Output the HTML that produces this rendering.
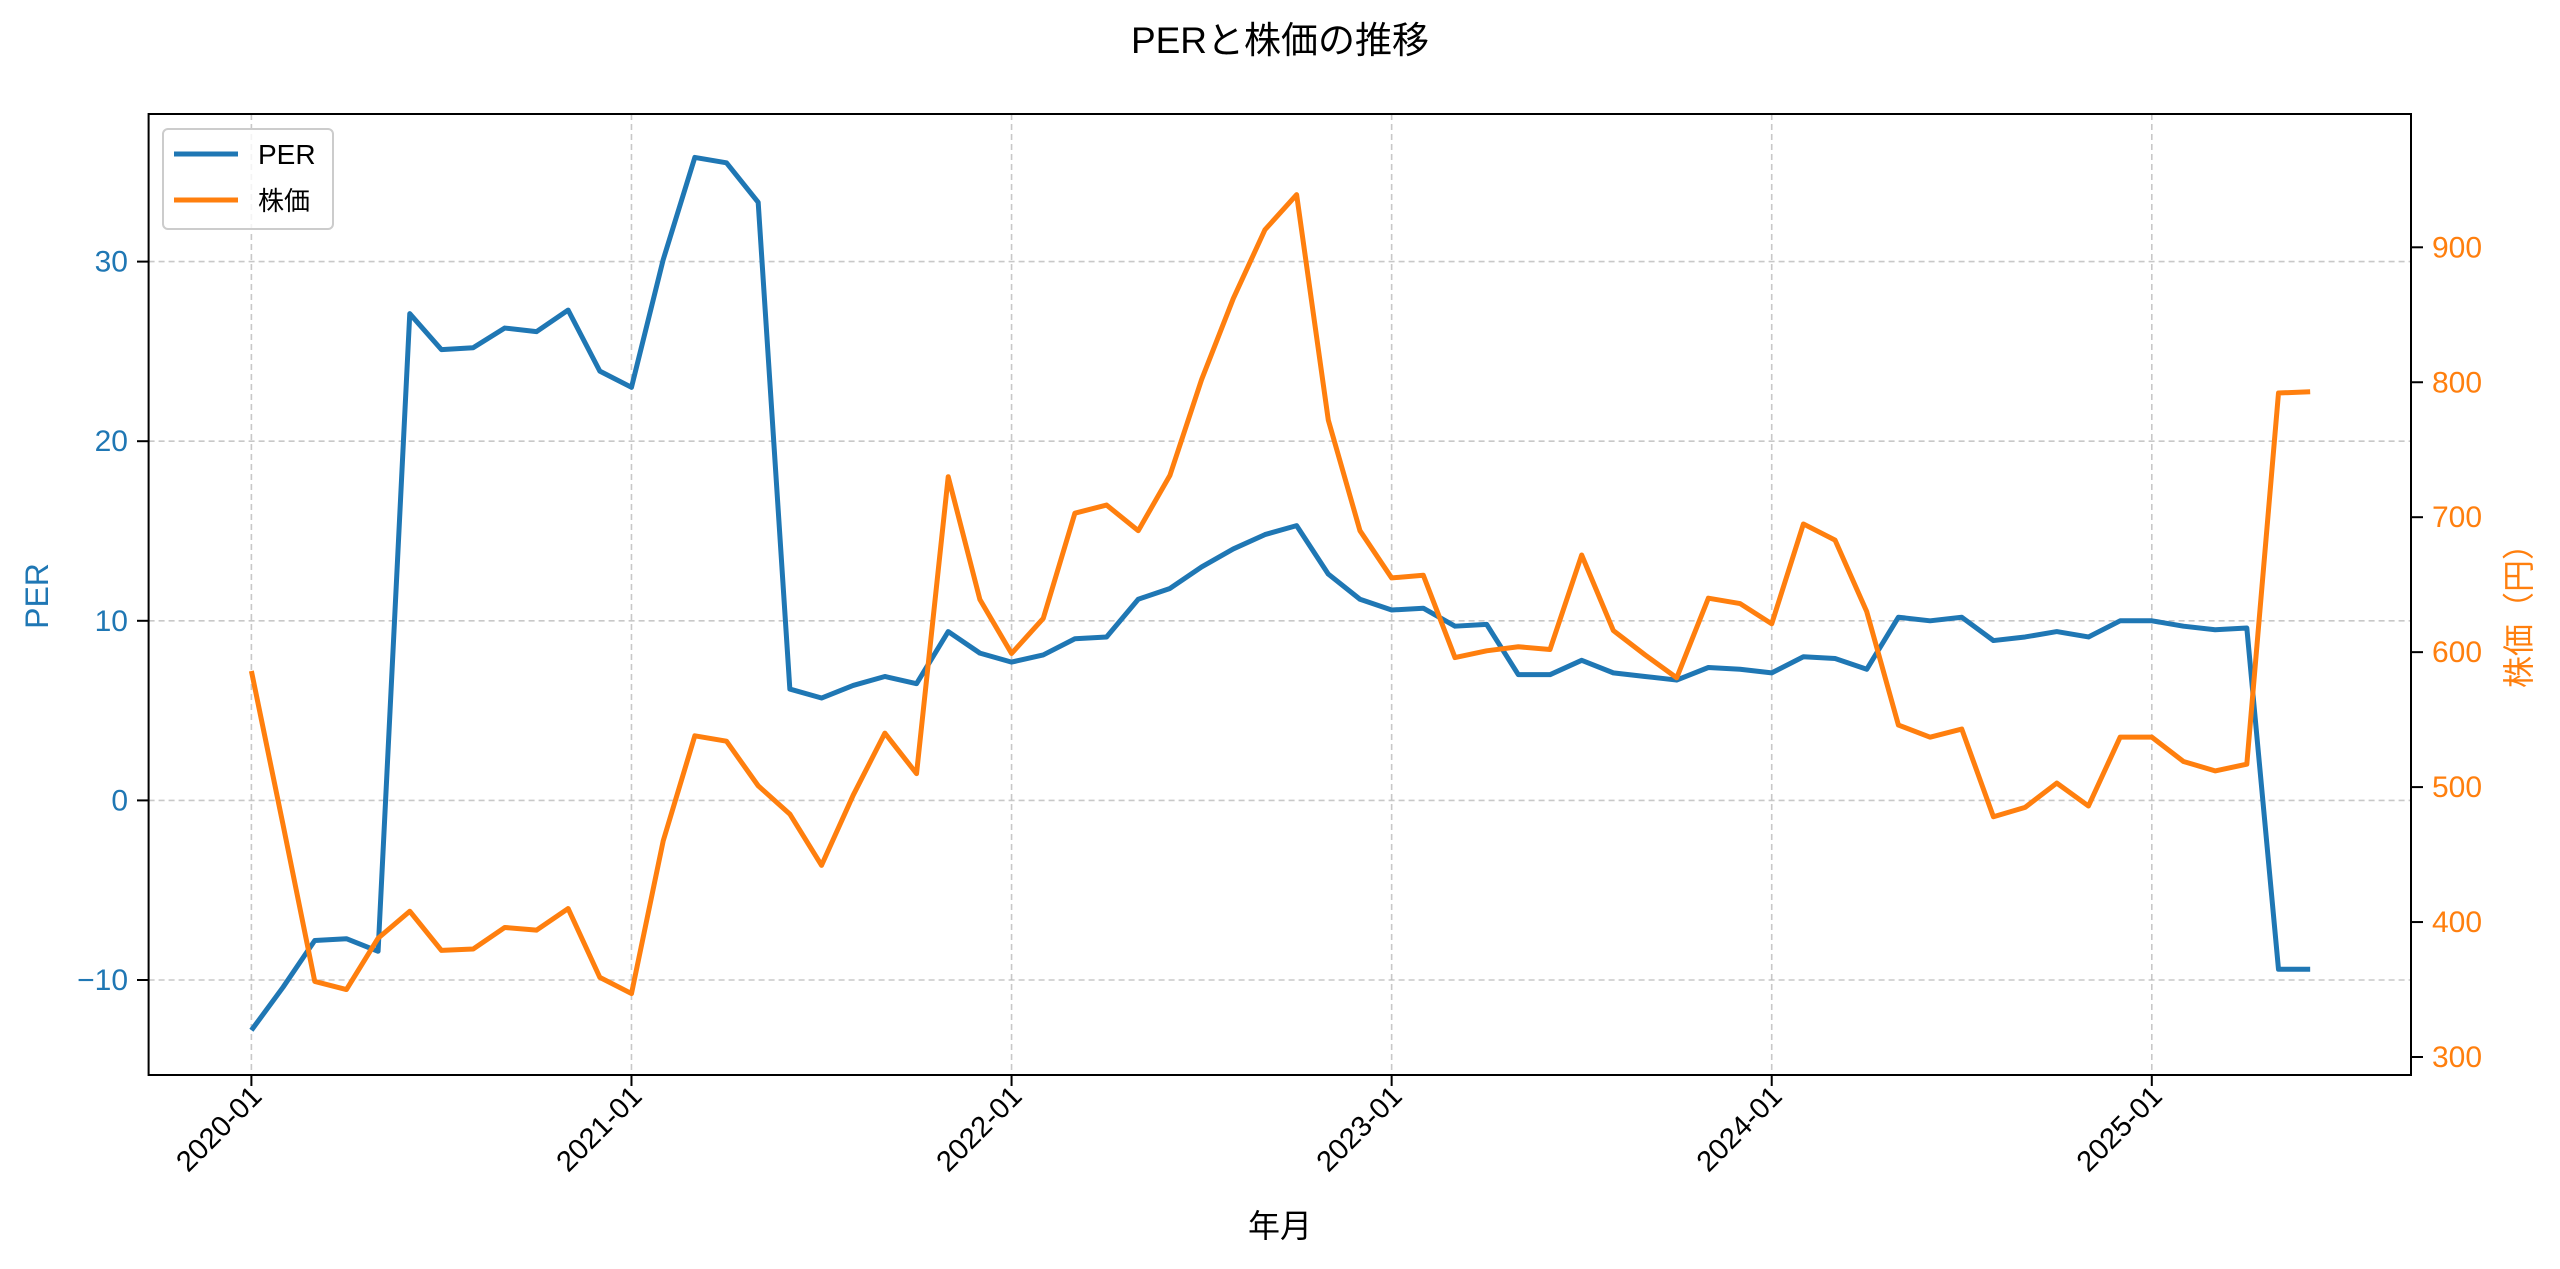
<!DOCTYPE html>
<html><head><meta charset="utf-8"><style>
html,body{margin:0;padding:0;background:#fff;}
svg{display:block;font-family:"Liberation Sans","Noto Sans CJK JP",sans-serif;}
</style></head><body>
<svg id="chart" width="2560" height="1269" viewBox="0 0 2560 1269" xmlns="http://www.w3.org/2000/svg">
<rect width="2560" height="1269" fill="#fff"/>
<text x="1280" y="53" font-size="37" text-anchor="middle" fill="#000">PERと株価の推移</text>
<g id="grid"></g>
<g id="series"></g>
<rect x="148.6" y="114" width="2262.4" height="961" fill="none" stroke="#000" stroke-width="2"/>
<g id="axes"></g>
<text x="1280" y="1237" font-size="32" text-anchor="middle" fill="#000">年月</text>
<text transform="translate(48,596) rotate(-90)" font-size="32" text-anchor="middle" fill="#1f77b4">PER</text>
<text transform="translate(2530,608) rotate(-90)" font-size="32" text-anchor="middle" fill="#ff7f0e">株価（円）</text>
<g>
<rect x="163" y="129" width="170" height="100" rx="5" fill="#fff" fill-opacity="0.8" stroke="#ccc" stroke-width="2"/>
<line x1="174" y1="154" x2="238" y2="154" stroke="#1f77b4" stroke-width="5"/>
<text x="258" y="164" font-size="28" fill="#000">PER</text>
<line x1="174" y1="200" x2="238" y2="200" stroke="#ff7f0e" stroke-width="5"/>
<text x="258" y="210" font-size="26" fill="#000">株価</text>
</g>
</svg>
<script>
const perValues = [-12.8,-10.4,-7.8,-7.7,-8.4,27.1,25.1,25.2,26.3,26.1,27.3,23.9,23.0,30.1,35.8,35.5,33.3,6.2,5.7,6.4,6.9,6.5,9.4,8.2,7.7,8.1,9.0,9.1,11.2,11.8,13.0,14.0,14.8,15.3,12.6,11.2,10.6,10.7,9.7,9.8,7.0,7.0,7.8,7.1,6.9,6.7,7.4,7.3,7.1,8.0,7.9,7.3,10.2,10.0,10.2,8.9,9.1,9.4,9.1,10.0,10.0,9.7,9.5,9.6,-9.4,-9.4];
const priceValues = [586,472,356,350,388,408,379,380,396,394,410,359,347,460,538,534,501,480,442,494,540,510,730,639,599,625,703,709,690,731,802,862,913,939,772,690,655,657,596,601,604,602,672,616,598,581,640,636,621,695,683,630,546,537,543,478,485,503,486,537,537,519,512,517,792,793];
const xTickLabels = ["2020-01","2021-01","2022-01","2023-01","2024-01","2025-01"];
const leftTicks = [-10,0,10,20,30];
const rightTicks = [300,400,500,600,700,800,900];

const NS="http://www.w3.org/2000/svg";
function xPos(i){return 251.4 + i*(2151.8-251.4)/60;}
function yLeft(v){return 800.4 - v*17.96;}
function yRight(p){return 1057 - (p-300)*1.3495;}
function mk(tag,attrs,parent){const e=document.createElementNS(NS,tag);for(const k in attrs)e.setAttribute(k,attrs[k]);parent.appendChild(e);return e;}
const grid=document.getElementById('grid'),axes=document.getElementById('axes'),series=document.getElementById('series');

xTickLabels.forEach((lab,k)=>{
  const x=xPos(k*12);
  const g=mk('line',{x1:x,y1:114,x2:x,y2:1075,stroke:'#b0b0b0','stroke-width':1.6,'stroke-dasharray':'6,4','stroke-opacity':0.7},grid);
  
  
  const t=mk('line',{x1:x,y1:1075,x2:x,y2:1086,stroke:'#000','stroke-width':2},axes);
  
  
  const tx=mk('text',{transform:`translate(${x+12},${1098}) rotate(-45)`,'font-size':29,'text-anchor':'end',fill:'#000'},axes);
  tx.textContent=lab;
  
  
});
leftTicks.forEach(v=>{
  const y=yLeft(v);
  const g=mk('line',{x1:148.6,y1:y,x2:2411,y2:y,stroke:'#b0b0b0','stroke-width':1.6,'stroke-dasharray':'6,4','stroke-opacity':0.7},grid);
  
  
  const t=mk('line',{x1:137,y1:y,x2:148.6,y2:y,stroke:'#000','stroke-width':2},axes);
  
  
  const tx=mk('text',{x:128,y:y+10,'font-size':30,'text-anchor':'end',fill:'#1f77b4'},axes);
  tx.textContent=v<0?'\u2212'+Math.abs(v):String(v);
  
  
});
rightTicks.forEach(v=>{
  const y=yRight(v);
  const t=mk('line',{x1:2411,y1:y,x2:2423,y2:y,stroke:'#000','stroke-width':2},axes);
  
  
  const tx=mk('text',{x:2432,y:y+10,'font-size':30,'text-anchor':'start',fill:'#ff7f0e'},axes);
  tx.textContent=String(v);
  
  
});
const perLine=mk('polyline',{points:perValues.map((v,i)=>xPos(i)+','+yLeft(v)).join(' '),fill:'none',stroke:'#1f77b4','stroke-width':5,'stroke-linejoin':'round'},series);


const priceLine=mk('polyline',{points:priceValues.map((v,i)=>xPos(i)+','+yRight(v)).join(' '),fill:'none',stroke:'#ff7f0e','stroke-width':5,'stroke-linejoin':'round'},series);


</script>
</body></html>
